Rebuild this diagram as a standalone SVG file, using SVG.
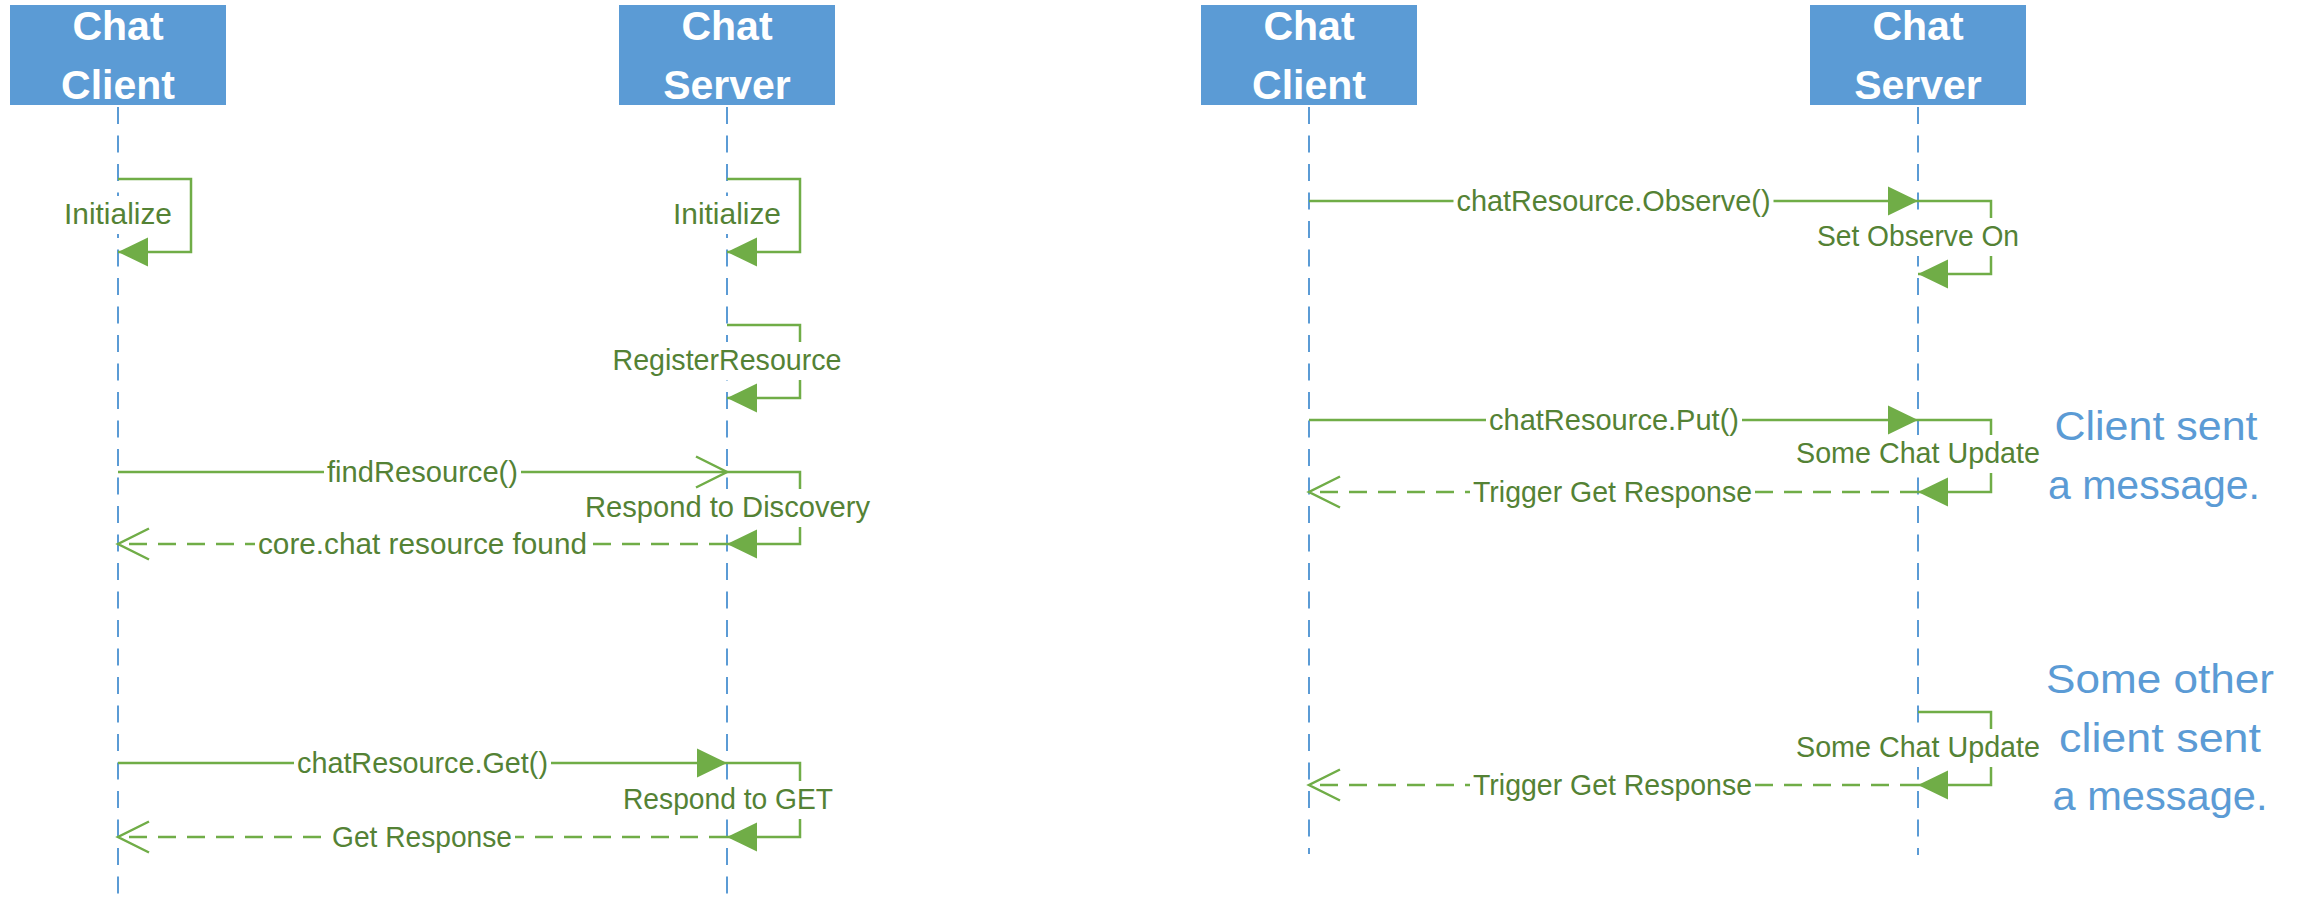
<svg xmlns="http://www.w3.org/2000/svg" width="2300" height="905" viewBox="0 0 2300 905">
  <style>
    .box { fill: #5B9BD5; }
    .head { font-family: "Liberation Sans", Arial, sans-serif; font-weight: bold; font-size: 41px; fill: #FFFFFF; text-anchor: middle; }
    .life { stroke: #5B9BD5; stroke-width: 2; stroke-dasharray: 17 11.5; fill: none; }
    .msg { stroke: #70AD47; stroke-width: 2.5; fill: none; }
    .ret { stroke: #70AD47; stroke-width: 2.5; fill: none; stroke-dasharray: 18 11; }
    .call { marker-end: url(#filled); }
    .open { marker-end: url(#openv); }
    .bg { fill: #FFFFFF; }
    .lbl { font-family: "Liberation Sans", Arial, sans-serif; font-size: 29px; fill: #548235; text-anchor: middle; }
    .note { font-family: "Liberation Sans", Arial, sans-serif; font-size: 41px; fill: #5B9BD5; text-anchor: middle; }
  </style>
  <defs>
    <marker id="filled" markerUnits="userSpaceOnUse" markerWidth="32" markerHeight="32" refX="30" refY="14.5" orient="auto" overflow="visible">
      <path d="M0,0 L30,14.5 L0,29 Z" fill="#70AD47" stroke="none"/>
    </marker>
    <marker id="openv" markerUnits="userSpaceOnUse" markerWidth="34" markerHeight="34" refX="31" refY="15.5" orient="auto" overflow="visible">
      <path d="M0,0 L31,15.5 L0,31" fill="none" stroke="#70AD47" stroke-width="2.5" stroke-dasharray="none"/>
    </marker>
  </defs>

  <rect width="2300" height="905" fill="#FFFFFF"/>

  <!-- Lifelines: first exchange -->
  <g id="client-a">
    <rect class="box" x="10" y="5" width="216" height="100"/>
    <text class="head" x="118" y="40">Chat</text>
    <text class="head" x="118" y="99">Client</text>
    <line class="life" x1="118" y1="107" x2="118" y2="898"/>
  </g>
  <g id="server-a">
    <rect class="box" x="619" y="5" width="216" height="100"/>
    <text class="head" x="727" y="40">Chat</text>
    <text class="head" x="727" y="99">Server</text>
    <line class="life" x1="727" y1="107" x2="727" y2="905"/>
  </g>

  <!-- Lifelines: observe exchange -->
  <g id="client-b">
    <rect class="box" x="1201" y="5" width="216" height="100"/>
    <text class="head" x="1309" y="40">Chat</text>
    <text class="head" x="1309" y="99">Client</text>
    <line class="life" x1="1309" y1="107" x2="1309" y2="854"/>
  </g>
  <g id="server-b">
    <rect class="box" x="1810" y="5" width="216" height="100"/>
    <text class="head" x="1918" y="40">Chat</text>
    <text class="head" x="1918" y="99">Server</text>
    <line class="life" x1="1918" y1="107" x2="1918" y2="855"/>
  </g>

  <!-- Messages -->
  <g id="connectors">
    <!-- self calls -->
    <path class="msg call" d="M118,179 H191 V252 H118"/>
    <path class="msg call" d="M727,179 H800 V252 H727"/>
    <path class="msg call" d="M727,325 H800 V398 H727"/>
    <path class="msg call" d="M727,472 H800 V544 H727"/>
    <path class="msg call" d="M727,763 H800 V837 H727"/>
    <path class="msg call" d="M1918,201 H1991 V274 H1918"/>
    <path class="msg call" d="M1918,420 H1991 V492 H1918"/>
    <path class="msg call" d="M1918,712 H1991 V785 H1918"/>
    <!-- requests -->
    <path class="msg open" d="M118,472 H727"/>
    <path class="msg call" d="M118,763 H727"/>
    <path class="msg call" d="M1309,201 H1918"/>
    <path class="msg call" d="M1309,420 H1918"/>
    <!-- replies -->
    <path class="ret open" d="M727,544 H118"/>
    <path class="ret open" d="M727,837 H118"/>
    <path class="ret open" d="M1918,492 H1309"/>
    <path class="ret open" d="M1918,785 H1309"/>

    <!-- label backgrounds -->
    <rect class="bg" x="61" y="196" width="114" height="38"/>
    <rect class="bg" x="670" y="196" width="114" height="38"/>
    <rect class="bg" x="609.5" y="342" width="235" height="38"/>
    <rect class="bg" x="324" y="453.5" width="197" height="38"/>
    <rect class="bg" x="582" y="489" width="291" height="38"/>
    <rect class="bg" x="255" y="525.5" width="335" height="38"/>
    <rect class="bg" x="294" y="744.5" width="257" height="38"/>
    <rect class="bg" x="620" y="781" width="216" height="38"/>
    <rect class="bg" x="329" y="818.5" width="186" height="38"/>
    <rect class="bg" x="1453.5" y="182.5" width="320" height="38"/>
    <rect class="bg" x="1814" y="218" width="208" height="38"/>
    <rect class="bg" x="1486" y="401.5" width="256" height="38"/>
    <rect class="bg" x="1793" y="435" width="250" height="38"/>
    <rect class="bg" x="1470" y="473.5" width="285" height="38"/>
    <rect class="bg" x="1793" y="729" width="250" height="38"/>
    <rect class="bg" x="1470" y="766.5" width="285" height="38"/>

    <!-- labels -->
    <text class="lbl" x="118" y="224" textLength="108" lengthAdjust="spacingAndGlyphs">Initialize</text>
    <text class="lbl" x="727" y="224" textLength="108" lengthAdjust="spacingAndGlyphs">Initialize</text>
    <text class="lbl" x="727" y="370" textLength="229" lengthAdjust="spacingAndGlyphs">RegisterResource</text>
    <text class="lbl" x="422.5" y="481.5" textLength="191" lengthAdjust="spacingAndGlyphs">findResource()</text>
    <text class="lbl" x="727.5" y="517" textLength="285" lengthAdjust="spacingAndGlyphs">Respond to Discovery</text>
    <text class="lbl" x="422.5" y="553.5" textLength="329" lengthAdjust="spacingAndGlyphs">core.chat resource found</text>
    <text class="lbl" x="422.5" y="772.5" textLength="251" lengthAdjust="spacingAndGlyphs">chatResource.Get()</text>
    <text class="lbl" x="728" y="809" textLength="210" lengthAdjust="spacingAndGlyphs">Respond to GET</text>
    <text class="lbl" x="422" y="846.5" textLength="180" lengthAdjust="spacingAndGlyphs">Get Response</text>
    <text class="lbl" x="1613.5" y="210.5" textLength="314" lengthAdjust="spacingAndGlyphs">chatResource.Observe()</text>
    <text class="lbl" x="1918" y="246" textLength="202" lengthAdjust="spacingAndGlyphs">Set Observe On</text>
    <text class="lbl" x="1614" y="429.5" textLength="250" lengthAdjust="spacingAndGlyphs">chatResource.Put()</text>
    <text class="lbl" x="1918" y="463" textLength="244" lengthAdjust="spacingAndGlyphs">Some Chat Update</text>
    <text class="lbl" x="1612.5" y="501.5" textLength="279" lengthAdjust="spacingAndGlyphs">Trigger Get Response</text>
    <text class="lbl" x="1918" y="757" textLength="244" lengthAdjust="spacingAndGlyphs">Some Chat Update</text>
    <text class="lbl" x="1612.5" y="794.5" textLength="279" lengthAdjust="spacingAndGlyphs">Trigger Get Response</text>
  </g>

  <!-- Annotations -->
  <g id="note-own">
    <text class="note" x="2156" y="440" textLength="203" lengthAdjust="spacingAndGlyphs">Client sent</text>
    <text class="note" x="2154" y="498.5" textLength="212" lengthAdjust="spacingAndGlyphs">a message.</text>
  </g>
  <g id="note-other">
    <text class="note" x="2160" y="692.5" textLength="228" lengthAdjust="spacingAndGlyphs">Some other</text>
    <text class="note" x="2160" y="751.5" textLength="202" lengthAdjust="spacingAndGlyphs">client sent</text>
    <text class="note" x="2160" y="810" textLength="215" lengthAdjust="spacingAndGlyphs">a message.</text>
  </g>
</svg>
